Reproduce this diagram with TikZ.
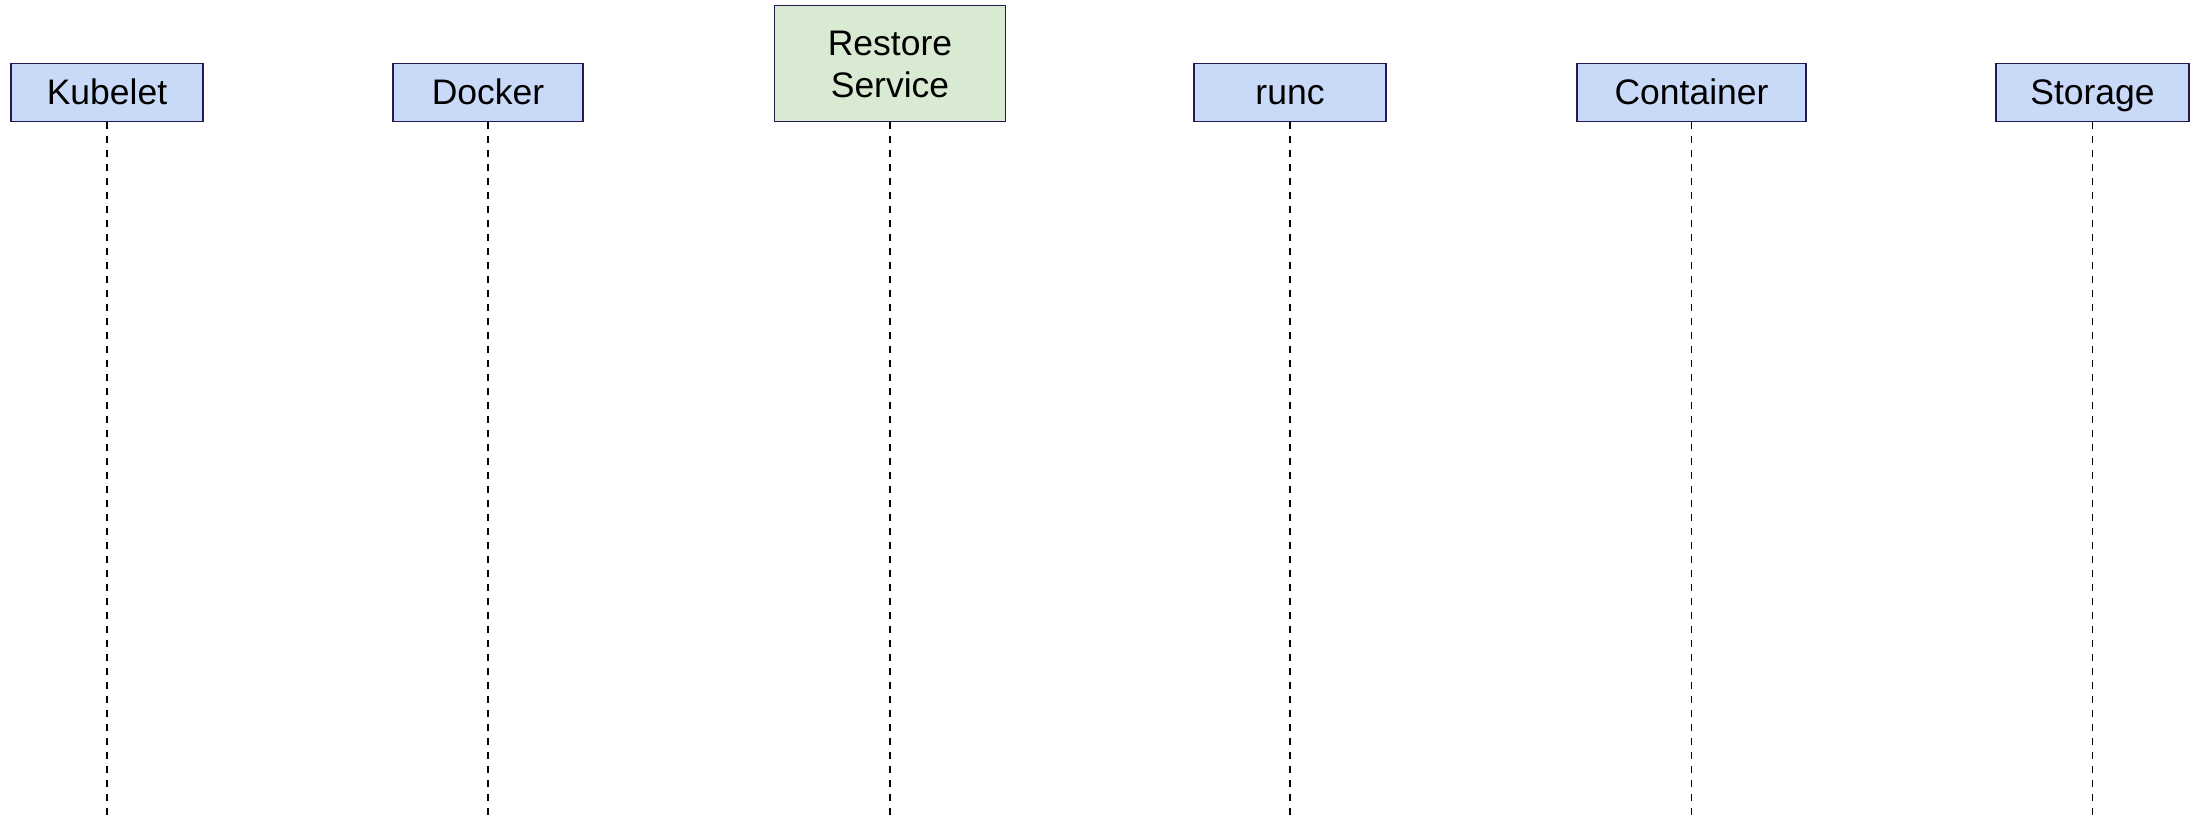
\documentclass[tikz,border=0pt]{standalone}
\usepackage{fontspec}
\setmainfont{Liberation Sans}
\definecolor{partblue}{HTML}{C9DAF8}
\definecolor{partgreen}{HTML}{D9EAD3}
\definecolor{partborder}{HTML}{231A4F}
\begin{document}
\begin{tikzpicture}[x=1pt,y=-1pt,
  part/.style={draw=partborder, line width=1.8pt, fill=partblue, minimum height=58pt,
    inner sep=0pt, align=center, text height=30pt, text depth=6pt,
    font=\fontsize{35.5}{42}\selectfont},
  greenpart/.style={part, fill=partgreen, text height=73pt, text depth=6pt},
  life/.style={line width=1.7pt, dash pattern=on 7pt off 7pt}]
\useasboundingbox (0,0) rectangle (2193,815);
\node[part, minimum width=192pt] (kubelet) at (107,92.5) {Kubelet};
\node[part, minimum width=190pt] (docker) at (488,92.5) {Docker};
\node[greenpart, minimum width=231pt, minimum height=116pt] (restore) at (890,63.5) {Restore\\Service};
\node[part, minimum width=192pt] (runc) at (1290,92.5) {runc};
\node[part, minimum width=229pt] (container) at (1691.5,92.5) {Container};
\node[part, minimum width=193pt] (storage) at (2092.5,92.5) {Storage};
\foreach \n in {kubelet,docker,restore,runc,container,storage}{
  \coordinate (\n-end) at (\n.south |- 0,815);
  \draw[life] (\n.south) -- (\n-end);
}
\end{tikzpicture}
\end{document}
